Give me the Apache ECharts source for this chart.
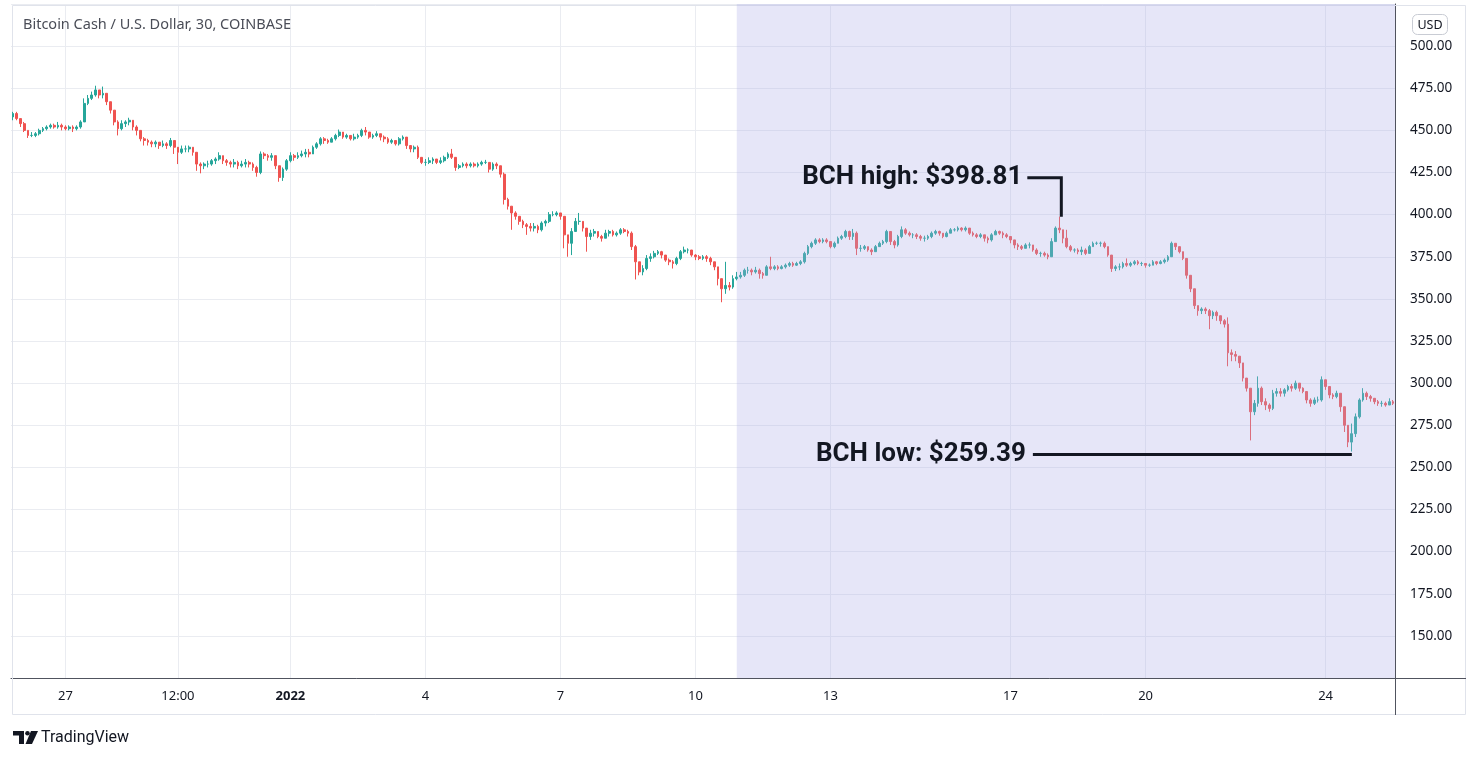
<!DOCTYPE html>
<html><head><meta charset="utf-8">
<script src="https://cdn.jsdelivr.net/npm/echarts@6/dist/echarts.min.js"></script>
<style>html,body{margin:0;padding:0;background:#fff;}#c{width:1478px;height:759px;}</style>
</head><body><div id="c"></div>
<script>
// 2-hour candles, first candle 2021-12-25 20:00
const startTimeUTC = Date.UTC(2021, 11, 25, 20, 0);
const stepHours = 2;
const firstOpen = 458;
const closes = [
 460,457,
 454,450,447,447,448,450,451,452,453,452,453,452,
 451,452,451,452,455,466,469,471,474,471,472,467,
 462,455,451,454,455,456,452,450,445,444,443,442,
 443,441,442,441,444,440,437,439,439,440,437,430,
 429,430,430,432,433,435,432,431,430,431,429,430,
 431,430,428,425,436,435,434,435,429,422,427,432,
 435,434,435,436,437,436,440,442,445,444,443,445,
 447,449,446,447,445,446,447,450,449,446,447,448,
 446,445,443,444,442,445,446,441,439,440,434,431,
 431,432,433,431,432,434,436,434,428,429,430,429,
 430,429,430,431,431,427,430,429,424,409,405,401,
 399,396,394,393,392,393,391,395,396,400,400,401,
 399,388,383,390,396,396,392,387,389,390,387,386,
 389,390,388,389,391,390,389,381,372,366,368,374,
 375,377,378,376,373,372,371,374,378,379,379,376,
 375,374,375,374,372,369,362,356,358,357,362,363,
 364,367,367,366,367,365,364,369,368,369,368,369,
 370,371,370,371,372,377,381,383,385,384,385,384,
 381,383,386,387,390,387,389,380,380,381,379,378,
 381,383,384,390,384,382,387,391,389,388,388,387,
 386,386,387,389,390,389,387,389,391,391,392,391,
 392,389,388,387,388,386,385,388,390,389,388,387,
 385,382,381,380,382,382,379,377,377,376,375,384,
 392,391,386,381,379,379,378,379,377,381,383,383,
 383,381,376,368,369,369,371,370,371,372,371,371,
 370,370,372,371,372,373,375,383,381,378,374,364,
 356,346,343,344,343,340,342,340,337,335,318,317,
 316,312,303,297,283,288,297,289,287,285,294,295,
 294,296,298,297,300,297,295,290,288,290,290,302,
 298,293,292,294,286,275,265,270,280,290,294,292,
 291,289,288,288,287,289,288
];
const highs = [
 461,461,
 457,455,450,449,449,451,452,453,454,454,455,454,
 453,453,453,453,456,469,471,473,476.5,474,476,472,
 467,462,456,456,456,457.5,456,453,450,446,445,444,
 444,443,444,443,445.5,444,440,441,441,441,440,437,
 431,431,432,433,434,437,435,433,432,433,432,432,
 433,432,431,429,437.5,437,436,436.5,435,429,428,433,
 437,436,437,438,439,439,441,443,446,446,445,446,
 448,450.5,449,448,447,448,448,451,452,449,448,449.5,
 448,447,446,445,444,446,447,446,441,441,441,434,
 433,434,434,433,434,435,437,439,434,430,431,431,
 431,431,431,432,432.5,431,431,431,429,425,410,405,
 402,399,397,395,395,395,394,396,397,401.5,402,402,
 401,399,388,392,398,401,396,392,391,391.5,390,388,
 391,391,391,390,392,392,391,390,382,372,370,376,
 377,378.5,379,378.5,376,374,373,375,379,381,380,379,
 376.5,376,376,376,375,372,369,362,372,360,364,366,
 366,368,369,368,369,368,366,370,375,370,370,370,
 371,372,372,372,373,378,382,384,386,386,386,386,
 384,384,387,388,391,390.5,391.5,390,382,382,381,380,
 382,384,385,391,390,385,388,393,392,390,389,389,
 388,387.5,388,390,391,390.5,389,390,392,392,393,392.5,
 393,392,390,389,389,388,387,389,391,390.5,390,389,
 387,385,383,382,383,383.5,382,380,378,378,377,386,
 393,398.81,391,391,382,380,380,381,380,382,384,384,
 384,384,381,376,370,371,372,374,372,373,373,372,
 371,371,373,372.5,373,374,376,384,383,381,378,374,
 364,356,346,345,345,344,343,343,340,338,339,320,
 319,316,312,303,297,290,304,298,291,288,296,297,
 297,297,299,299.5,301.5,300,297.5,295,291,291.5,292,304,
 302,298,294,295.5,294,286,275,276,282,291,297,295,
 293,291,290,289.5,289,291,290
];
const lows = [
 456,456,
 452,449,445.5,446,446,447,449,450,451,451,451,450,
 450,450,449,450,451,455,465,468,470,469,469,465,
 460,453,447,450,452,453,450,447,443.5,441,441,440,
 440,439,440,439,440,436,430,436,437,437,435,426,
 424.5,427,428,429,430,432,430,429,428,428,427,428,
 428,428,426,422.5,424,433,432,432,427,419.5,420,426,
 431,432,433,434,434,434,436,439,441,442,442,443,
 444,446,445,445,444,444,445,446,447,445,445,446,
 444,443,442,442,441,441,444,439,437,437,433,430,
 429,430,430,430,430,431,433,433,426,427,428,427.5,
 428,428,428,429,430,425,426,427,422,406,403,391,
 397,394,392,388,390,390,389,390,393,395,399,399,
 397,380,375,376,390,394,390,378,385,387,386,384,
 386,387,387,387,388,389,387,379,361.5,364,364,367,
 372,374,376,374,372,370,368,370,373,377,377,375,
 373,373,373,372,370,367,358,348,353,355,356,361,
 362,363,365,364,365,362,362,364,367,367,367,367.5,
 368,369,369,369.5,370,371,376,380,382,383,383,383,
 380,380,383,385,386,385,385,376,378,379,378,376,
 378,381,382,383,382,380,381,386,388,387,386,385.5,
 384.5,384,385,386,388,387.5,386,386.5,389,390,390,390,
 390,388,387,386,386,384,383,384,388,388,386,386,
 383,380,379,379,380,380,378,376,375,375,373.5,375,
 384,389,383,380,378,377.5,376.5,376,376,377,381,382,
 381,380,375,366,366.5,367,368,369,369,370,370,369.5,
 368.5,369,370,370,370.5,371,372,375,379,377,373,362,
 354,344,340,341,341,332,338,337,335,333,310,313,
 313,309,301,295,266,281,286,287,284,283,284,292,
 292,292,295,295,296,295,294,288,286,287,288.5,289,
 296,291,290.5,291,283,271,262,259.39,268,279,289,290,
 289,287.5,286.5,286,286,287,287
];
const tickLabels = [
 ['2021-12-27 00:00', '27'],
 ['2021-12-29 12:00', '12:00'],
 ['2022-01-01 00:00', '2022'],
 ['2022-01-04 00:00', '4'],
 ['2022-01-07 00:00', '7'],
 ['2022-01-10 00:00', '10'],
 ['2022-01-13 00:00', '13'],
 ['2022-01-17 00:00', '17'],
 ['2022-01-20 00:00', '20'],
 ['2022-01-24 00:00', '24']
];
const shadeFrom = '2022-01-10 22:00';
const highAnno = { time: '2022-01-18 02:00', value: 398.81, text: 'BCH high: $398.81' };
const lowAnno = { time: '2022-01-24 14:00', value: 259.39, text: 'BCH low: $259.39' };

const pad = n => (n < 10 ? '0' : '') + n;
const categories = closes.map((_, i) => {
  const d = new Date(startTimeUTC + i * stepHours * 3600000);
  return d.getUTCFullYear() + '-' + pad(d.getUTCMonth() + 1) + '-' + pad(d.getUTCDate()) + ' ' + pad(d.getUTCHours()) + ':' + pad(d.getUTCMinutes());
});
const candleData = closes.map((c, i) => [i === 0 ? firstOpen : closes[i - 1], c, lows[i], highs[i]]);
const labelMap = {};
tickLabels.forEach(t => { labelMap[t[0]] = t[1]; });
const isTick = (idx, val) => Object.prototype.hasOwnProperty.call(labelMap, val);

const FONT = '"Noto Sans", "Open Sans", sans-serif';
const chart = echarts.init(document.getElementById('c'), null, { renderer: 'canvas' });
const GRID = { left: 11, right: 83, top: 4, bottom: 81 };
chart.setOption({
  animation: false,
  backgroundColor: '#ffffff',
  grid: GRID,
  xAxis: {
    type: 'category', data: categories, boundaryGap: true,
    axisLine: { show: true, lineStyle: { color: '#50535e', width: 1 } },
    axisTick: { show: false },
    axisLabel: {
      interval: isTick, color: '#131722', fontSize: 13, fontFamily: FONT, margin: 12,
      formatter: v => { const t = labelMap[v] || ''; return t === '2022' ? '{b|' + t + '}' : t; },
      rich: { b: { fontWeight: 'bold', fontSize: 13, fontFamily: FONT, color: '#131722' } }
    },
    splitLine: { show: true, interval: isTick, alignWithLabel: true, lineStyle: { color: '#eaecf1', width: 1 } }
  },
  yAxis: {
    type: 'value', position: 'right', min: 125, max: 525, interval: 25, scale: true,
    axisLine: { show: true, lineStyle: { color: '#50535e', width: 1 } },
    axisTick: { show: false },
    axisLabel: { showMinLabel: false, showMaxLabel: false, color: '#131722', fontSize: 13.5, fontFamily: FONT, margin: 15, formatter: v => v.toFixed(2) },
    splitLine: { show: true, lineStyle: { color: '#eaecf1', width: 1 } }
  },
  series: [{
    type: 'candlestick', data: candleData, barWidth: '60%',
    itemStyle: { color: '#26a69a', color0: '#ef5350', borderColor: '#26a69a', borderColor0: '#ef5350', borderWidth: 1 }
  }]
});

const px = (cat, val) => chart.convertToPixel({ gridIndex: 0 }, [categories.indexOf(cat), val]);
const gTop = GRID.top, gBottom = 759 - GRID.bottom, gRight = 1478 - GRID.right;
const s0 = px(shadeFrom, 300)[0];
const hp = px(highAnno.time, highAnno.value);
const lp = px(lowAnno.time, lowAnno.value);
const ink = '#131722';
chart.setOption({
  graphic: [
    { type: 'rect', z: 10, silent: true, shape: { x: s0, y: gTop, width: gRight - s0, height: gBottom - gTop }, style: { fill: 'rgba(172,172,232,0.3)' } },
    { type: 'rect', z: 1, silent: true, shape: { x: 12.5, y: 5.5, width: 1453, height: 709 }, style: { fill: 'none', stroke: '#e0e3eb', lineWidth: 1 } },
    { type: 'line', z: 11, silent: true, shape: { x1: gRight + 0.5, y1: gBottom, x2: gRight + 0.5, y2: 715 }, style: { stroke: '#50535e', lineWidth: 1 } },
    { type: 'line', z: 11, silent: true, shape: { x1: gRight, y1: gBottom + 0.5, x2: 1466, y2: gBottom + 0.5 }, style: { stroke: '#50535e', lineWidth: 1 } },
    { type: 'text', z: 12, silent: true, style: { x: 23, y: 25, text: 'Bitcoin Cash / U.S. Dollar, 30, COINBASE', font: '14.5px ' + FONT, fill: '#4a4d57', verticalAlign: 'middle' } },
    { type: 'rect', z: 12, silent: true, shape: { x: 1412.5, y: 14.5, width: 35, height: 20, r: 5 }, style: { fill: '#fff', stroke: '#c9ccd4', lineWidth: 1 } },
    { type: 'text', z: 13, silent: true, style: { x: 1430, y: 25, text: 'USD', font: '12.5px ' + FONT, fill: ink, align: 'center', verticalAlign: 'middle' } },
    // high annotation
    { type: 'polyline', z: 14, silent: true, shape: { points: [[hp[0] - 32, hp[1] - 39], [hp[0] + 2, hp[1] - 39], [hp[0] + 2, hp[1]]] }, style: { stroke: ink, lineWidth: 3, fill: 'none' } },
    { type: 'text', z: 14, silent: true, style: { x: hp[0] - 37, y: hp[1] - 39, text: highAnno.text, font: 'bold 26px Roboto, sans-serif', fill: ink, align: 'right', verticalAlign: 'middle' } },
    // low annotation
    { type: 'line', z: 14, silent: true, shape: { x1: lp[0] - 319, y1: lp[1] + 3, x2: lp[0], y2: lp[1] + 3 }, style: { stroke: ink, lineWidth: 3 } },
    { type: 'text', z: 14, silent: true, style: { x: lp[0] - 326, y: lp[1] + 3, text: lowAnno.text, font: 'bold 26px Roboto, sans-serif', fill: ink, align: 'right', verticalAlign: 'middle' } },
    // TradingView logo
    { type: 'polygon', z: 12, silent: true, shape: { points: [[13, 731], [24, 731], [24, 744], [19, 744], [19, 735.5], [13, 735.5]] }, style: { fill: ink } },
    { type: 'circle', z: 12, silent: true, shape: { cx: 27.5, cy: 733.3, r: 2.3 }, style: { fill: ink } },
    { type: 'polygon', z: 12, silent: true, shape: { points: [[31, 731], [38, 731], [32, 744], [25.5, 744]] }, style: { fill: ink } },
    { type: 'text', z: 12, silent: true, style: { x: 41, y: 738, text: 'TradingView', font: '16px Roboto, sans-serif', fill: ink, verticalAlign: 'middle' } }
  ]
});
</script>
</body></html>
